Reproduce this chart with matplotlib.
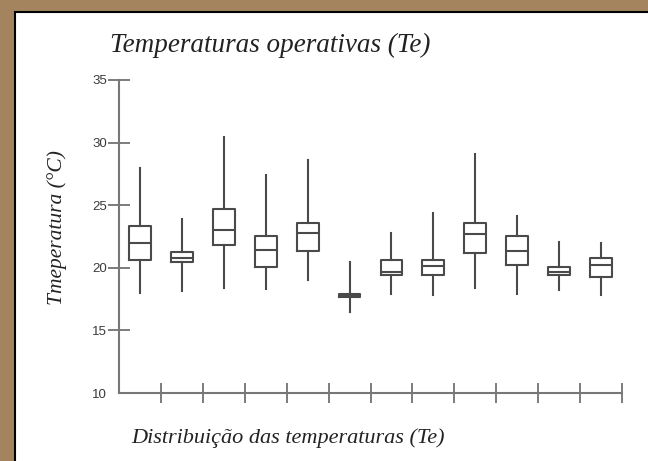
import matplotlib
matplotlib.use("Agg")
import matplotlib.pyplot as plt
from matplotlib.patches import Rectangle

# five-number summaries, one per box
whislo = [18.0, 18.15, 18.4, 18.3, 19.0, 16.5, 17.9, 17.8, 18.4, 17.9, 18.2, 17.8]
q1     = [20.6, 20.5, 21.8, 20.1, 21.35, 17.65, 19.4, 19.4, 21.15, 20.25, 19.4, 19.3]
med    = [22.0, 20.8, 23.0, 21.45, 22.8, 17.8, 19.7, 20.15, 22.7, 21.35, 19.7, 20.2]
q3     = [23.3, 21.25, 24.7, 22.55, 23.55, 17.9, 20.65, 20.65, 23.55, 22.55, 20.1, 20.75]
whishi = [28.0, 23.9, 30.45, 27.45, 28.65, 20.5, 22.8, 24.4, 29.1, 24.1, 22.1, 21.95]

yticks = [10, 15, 20, 25, 30, 35]

fig = plt.figure(figsize=(6.48, 4.61), dpi=100, facecolor="#a4835f")
# white panel with black frame
fig.patches.append(Rectangle((15/648, -0.01), 1.0, 1 - 12/461 + 0.01,
                             transform=fig.transFigure, facecolor="white",
                             edgecolor="black", linewidth=1.5, zorder=-10))

ax = fig.add_axes([119/648, 68/461, 503/648, 313/461])
ax.set_facecolor("none")

stats = []
for i in range(len(med)):
    stats.append(dict(whislo=whislo[i], q1=q1[i], med=med[i], q3=q3[i],
                      whishi=whishi[i], fliers=[]))

col = "#4a4a4a"
ax.bxp(stats, positions=[i + 0.5 for i in range(len(stats))], widths=0.52,
       showcaps=False, showfliers=False,
       boxprops=dict(color=col, linewidth=1.5),
       whiskerprops=dict(color=col, linewidth=1.5),
       medianprops=dict(color=col, linewidth=1.5))

ax.set_xlim(0, 12)
ax.set_ylim(10, 35)
ax.set_xticks(range(1, 13))
ax.set_xticklabels([])
ax.set_yticks(yticks)
ax.set_yticklabels([str(t) for t in yticks], fontsize=9.5, family="Liberation Sans",
                   color="#3a3a3a")
ax.tick_params(axis="x", direction="inout", length=14, width=1.2, color="#666666")
ax.tick_params(axis="y", direction="inout", length=16, width=1.2, color="#666666", pad=0.5)
ax.yaxis.get_major_ticks()[0].tick1line.set_visible(False)
for s in ["top", "right"]:
    ax.spines[s].set_visible(False)
for s in ["left", "bottom"]:
    ax.spines[s].set_color("#777777")
    ax.spines[s].set_linewidth(1.5)

fig.text(270/648, 1 - 45/461, "Temperaturas operativas (Te)", ha="center", va="center",
         family="Liberation Serif", style="italic", fontsize=19.5, color="#222222")
fig.text(288/648, 1 - 438/461, "Distribuição das temperaturas (Te)", ha="center",
         va="center", family="Liberation Serif", style="italic", fontsize=16,
         color="#222222")
fig.text(57/648, 1 - 228/461, "Tmeperatura (°C)", ha="center", va="center",
         rotation=90, family="Liberation Serif", style="italic", fontsize=15.5,
         color="#222222")

fig.savefig("out.png", dpi=100, facecolor=fig.get_facecolor())
